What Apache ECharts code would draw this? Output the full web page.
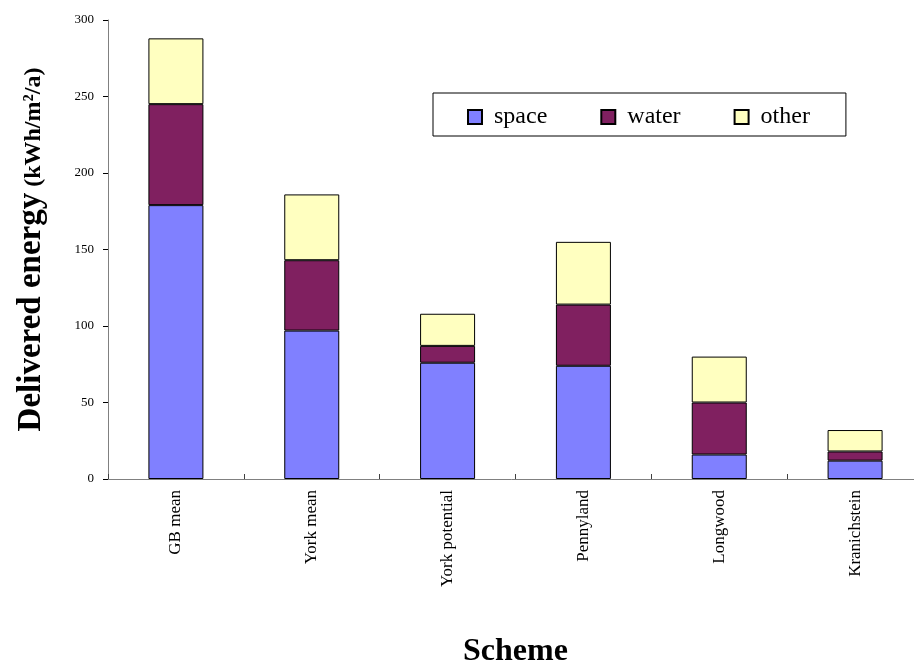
<!DOCTYPE html>
<html>
<head>
<meta charset="utf-8">
<script src="https://cdn.jsdelivr.net/npm/echarts@6/dist/echarts.min.js"></script>
<style>
  html, body { margin: 0; padding: 0; background: #fff; }
  #chart { width: 914px; height: 665px; }
</style>
</head>
<body>
<div id="chart"></div>
<script>
// values (kWh/m2/a)
const schemes = ['GB mean', 'York mean', 'York potential', 'Pennyland', 'Longwood', 'Kranichstein'];
const spaceData = [179, 97, 76, 74, 16, 12];
const waterData = [66, 46, 11, 40, 34, 6];
const otherData = [43, 43, 21, 41, 30, 14];
const yTicks = { min: 0, max: 300, interval: 50 };

const serif = '"Liberation Serif", "Times New Roman", serif';

document.addEventListener("DOMContentLoaded", () => {
    const chart = echarts.init(document.getElementById('chart'));

    function barSeries(name, data, color) {
        return {
            name: name,
            type: 'bar',
            stack: 'total',
            data: data,
            barWidth: 55,
            itemStyle: {
                color: color,
                borderColor: '#000',
                borderWidth: 1
            }
        };
    }

    const option = {
        animation: false,
        backgroundColor: '#fff',
        textStyle: { fontFamily: serif },
        grid: {
            left: 108,
            top: 20,
            width: 815,
            height: 459,
            containLabel: false,
            outerBoundsMode: 'none'
        },
        legend: {
            left: 433,
            top: 93,
            padding: [12, 36, 7, 34],
            itemGap: 53,
            itemWidth: 14,
            itemHeight: 14,
            icon: 'rect',
            borderColor: '#000',
            borderWidth: 1,
            textStyle: {
                fontFamily: serif,
                fontSize: 24,
                color: '#000',
                padding: [0, 0, 0, 7]
            },
            data: ['space', 'water', 'other']
        },
        xAxis: {
            type: 'category',
            data: schemes,
            name: 'Scheme',
            nameLocation: 'middle',
            nameGap: 157,
            nameTextStyle: {
                fontFamily: serif,
                fontSize: 32,
                fontWeight: 'bold',
                color: '#000'
            },
            axisLine: { lineStyle: { color: '#808080', width: 1 } },
            axisTick: {
                show: true,
                inside: true,
                length: 5,
                lineStyle: { color: '#404040' }
            },
            axisLabel: {
                rotate: 90,
                margin: 11,
                fontFamily: serif,
                fontSize: 17,
                color: '#000'
            }
        },
        yAxis: {
            type: 'value',
            min: yTicks.min,
            max: yTicks.max,
            interval: yTicks.interval,
            name: '{a|Delivered energy}{b| (kWh/m²/a)}',
            nameLocation: 'middle',
            nameRotate: 90,
            nameGap: 60,
            nameTextStyle: {
                rich: {
                    a: { fontFamily: serif, fontSize: 33, fontWeight: 'bold', color: '#000', lineHeight: 36, verticalAlign: 'bottom' },
                    b: { fontFamily: serif, fontSize: 24, fontWeight: 'bold', color: '#000', lineHeight: 36, verticalAlign: 'bottom', padding: [0, 0, 2, 0] }
                }
            },
            axisLine: { show: true, lineStyle: { color: '#808080', width: 1 } },
            axisTick: {
                show: true,
                length: 5,
                lineStyle: { color: '#000' }
            },
            splitLine: { show: false },
            axisLabel: {
                margin: 14,
                fontFamily: serif,
                fontSize: 13,
                color: '#000'
            }
        },
        series: [
            barSeries('space', spaceData, '#8080FF'),
            barSeries('water', waterData, '#802060'),
            barSeries('other', otherData, '#FFFFC0')
        ]
    };

    chart.setOption(option);
});
</script>
</body>
</html>
